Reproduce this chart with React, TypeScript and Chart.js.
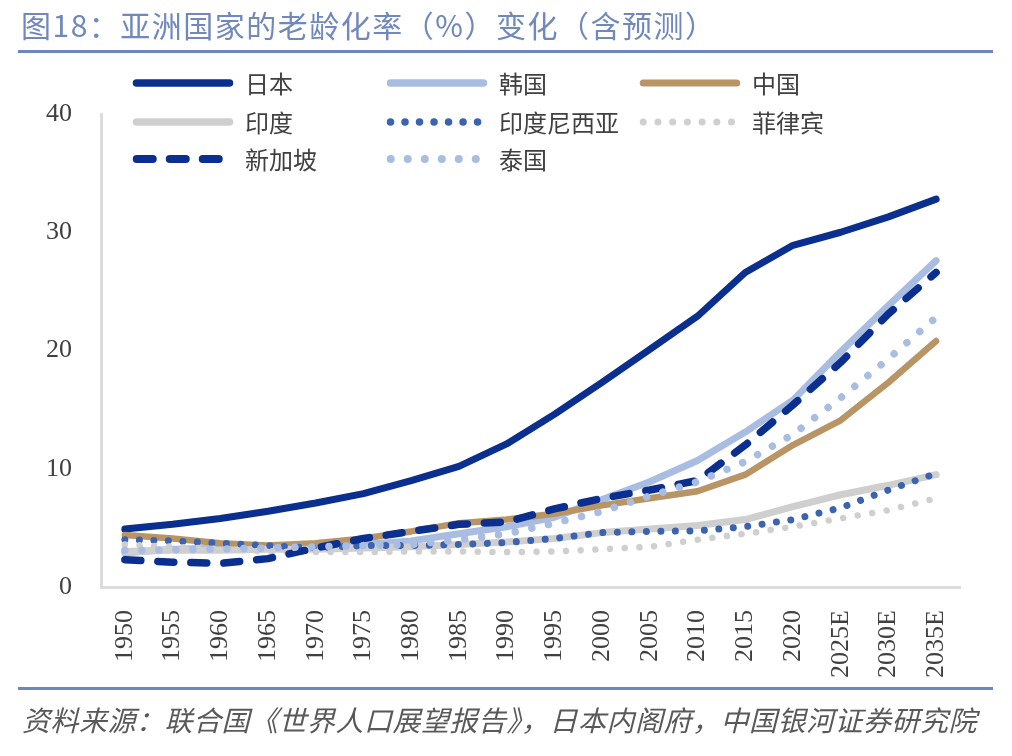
import React, { useEffect, useRef } from "react";
import { Chart, registerables } from "chart.js";

Chart.register(...registerables);

const years = ["1950", "1955", "1960", "1965", "1970", "1975", "1980", "1985", "1990", "1995", "2000", "2005", "2010", "2015", "2020", "2025E", "2030E", "2035E"];

const japan = [4.9, 5.3, 5.8, 6.4, 7.1, 7.9, 9.0, 10.2, 12.1, 14.6, 17.3, 20.1, 22.9, 26.6, 28.9, 30.0, 31.3, 32.8];
const korea = [2.9, 3.2, 3.3, 3.4, 3.4, 3.6, 3.9, 4.5, 5.1, 5.9, 7.4, 8.9, 10.7, 13.1, 15.8, 19.9, 23.8, 27.6];
const china = [4.4, 4.1, 3.7, 3.5, 3.7, 4.1, 4.7, 5.4, 5.7, 6.2, 6.9, 7.5, 8.1, 9.5, 12.0, 14.1, 17.3, 20.8];
const india = [3.0, 3.1, 3.1, 3.2, 3.2, 3.3, 3.4, 3.6, 3.8, 4.1, 4.6, 4.9, 5.2, 5.7, 6.8, 7.8, 8.6, 9.5];
const indonesia = [4.0, 3.9, 3.7, 3.5, 3.3, 3.5, 3.5, 3.6, 3.75, 4.1, 4.6, 4.7, 4.75, 5.1, 5.7, 6.7, 8.2, 9.6];
const philippines = [3.6, 3.4, 3.2, 3.0, 2.95, 2.95, 3.0, 3.0, 2.95, 3.0, 3.2, 3.4, 4.0, 4.5, 5.1, 5.8, 6.5, 7.5];
const singapore = [2.3, 2.1, 2.0, 2.4, 3.3, 4.1, 4.7, 5.3, 5.5, 6.6, 7.5, 8.2, 9.0, 12.0, 15.4, 19.0, 23.1, 26.6];
const thailand = [3.1, 3.15, 3.2, 3.3, 3.4, 3.5, 3.6, 4.0, 4.5, 5.4, 6.4, 7.7, 8.9, 10.6, 12.9, 16.0, 19.3, 22.8];

const seriesNames = ["日本", "韩国", "中国", "印度", "印度尼西亚", "菲律宾", "新加坡", "泰国"];
const seriesValues = [japan, korea, china, india, indonesia, philippines, singapore, thailand];
const seriesColors = ["#0a2f8f", "#a9bde3", "#b99566", "#d0cfcf", "#3c63b0", "#cfcfcf", "#0a2f8f", "#a9bde3"];
const seriesWidths = [7, 7, 6.5, 7, 7, 6.5, 7.5, 7.5];
const seriesDashes: number[][] = [[], [], [], [], [0.01, 14.5], [0.01, 14.7], [16, 17], [0.01, 17]];

const yTicks = [0, 10, 20, 30, 40];

const legendPlugin = {
  id: "gridLegend",
  afterDraw(chart: any) {
    const ctx = chart.ctx;
    const rows = [83, 122, 159];
    const colX = [133, 387, 640];
    chart.data.datasets.forEach((ds: any, i: number) => {
      const col = i % 3;
      const row = Math.floor(i / 3);
      const x0 = colX[col];
      const y = rows[row];
      const w = ds.borderWidth;
      ctx.save();
      ctx.strokeStyle = ds.borderColor;
      ctx.lineWidth = w + 0.5;
      ctx.lineCap = "round";
      ctx.setLineDash(ds.borderDash || []);
      ctx.beginPath();
      ctx.moveTo(x0 + w / 2, y);
      ctx.lineTo(x0 + 100 - w / 2, y);
      ctx.stroke();
      ctx.setLineDash([]);
      ctx.fillStyle = "#404040";
      ctx.font = '24px "Noto Sans CJK SC", sans-serif';
      ctx.textAlign = "left";
      ctx.textBaseline = "middle";
      ctx.fillText(ds.label, x0 + 112, y + 1);
      ctx.restore();
    });
  },
};

export default function App() {
  const canvasRef = useRef<HTMLCanvasElement | null>(null);

  useEffect(() => {
    if (!canvasRef.current) return;
    const n = seriesNames.length;
    const chart = new Chart(canvasRef.current, {
      type: "line",
      data: {
        labels: years,
        datasets: seriesNames.map((name, i) => ({
          label: name,
          data: seriesValues[i],
          borderColor: seriesColors[i],
          backgroundColor: seriesColors[i],
          borderWidth: seriesWidths[i],
          borderDash: seriesDashes[i],
          borderCapStyle: "round" as const,
          borderJoinStyle: "round" as const,
          pointRadius: 0,
          pointHoverRadius: 0,
          tension: 0,
          fill: false,
          order: n - i,
        })),
      },
      options: {
        animation: false,
        responsive: false,
        layout: { padding: { top: 114, right: 52, left: 0, bottom: 0 } },
        plugins: {
          legend: { display: false },
          tooltip: { enabled: false },
          title: { display: false },
        },
        scales: {
          x: {
            offset: true,
            grid: { display: false, drawTicks: false },
            border: { display: true, color: "#dcdcdc", width: 3 },
            ticks: {
              autoSkip: false,
              minRotation: 90,
              maxRotation: 90,
              padding: 23,
              color: "#404040",
              font: { family: '"Liberation Serif", "Times New Roman", serif', size: 26 },
            },
            afterFit: (s: any) => {
              s.height = 169;
            },
          },
          y: {
            min: 0,
            max: 40,
            afterBuildTicks: (s: any) => {
              s.ticks = yTicks.map((v) => ({ value: v }));
            },
            grid: { display: false, drawTicks: false },
            border: { display: true, color: "#dcdcdc", width: 3 },
            ticks: {
              padding: 29,
              color: "#404040",
              font: { family: '"Liberation Serif", "Times New Roman", serif', size: 26 },
            },
            afterFit: (s: any) => {
              s.width = 101;
            },
          },
        },
      },
      plugins: [legendPlugin],
    });
    return () => chart.destroy();
  }, []);

  return (
    <div
      style={{
        position: "absolute",
        left: 0,
        top: 0,
        width: 1012,
        height: 756,
        background: "#ffffff",
        overflow: "hidden",
      }}
    >
      <canvas
        ref={canvasRef}
        width={1012}
        height={756}
        style={{ position: "absolute", left: 0, top: 0, width: 1012, height: 756 }}
      />
      <div
        style={{
          position: "absolute",
          left: 21,
          top: 4,
          fontFamily: '"Noto Sans CJK SC", sans-serif',
          fontSize: 30,
          lineHeight: "40px",
          letterSpacing: 1.5,
          color: "#7088bb",
          whiteSpace: "nowrap",
        }}
      >
        图18：亚洲国家的老龄化率（%）变化（含预测）
      </div>
      <div style={{ position: "absolute", left: 18, top: 50, width: 975, height: 3, background: "#6e87ba" }} />
      <div style={{ position: "absolute", left: 18, top: 687, width: 975, height: 3, background: "#6e87ba" }} />
      <div
        style={{
          position: "absolute",
          left: 22,
          top: 699,
          fontFamily: '"Noto Sans CJK SC", sans-serif',
          fontSize: 28,
          lineHeight: "40px",
          letterSpacing: 0.5,
          fontStyle: "italic",
          color: "#595959",
          whiteSpace: "nowrap",
        }}
      >
        资料来源：联合国《世界人口展望报告》，日本内阁府，中国银河证券研究院
      </div>
    </div>
  );
}
